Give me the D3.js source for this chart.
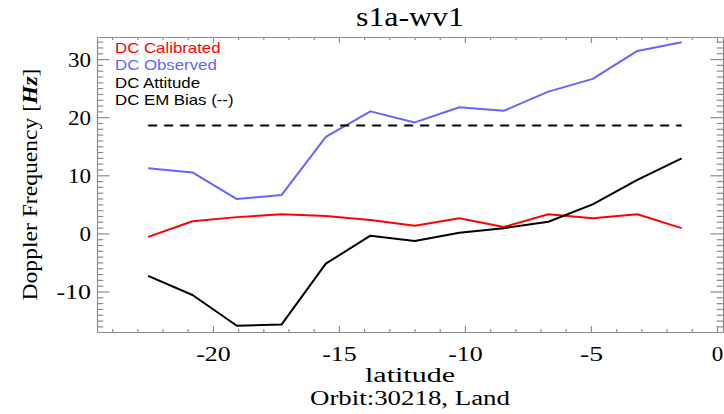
<!DOCTYPE html>
<html>
<head>
<meta charset="utf-8">
<script src="https://cdn.jsdelivr.net/npm/d3@7"></script>
<style>
  html, body { margin: 0; padding: 0; background: #fff; }
  svg { display: block; }
  .serif { font-family: "Liberation Serif", "DejaVu Serif", serif; }
  .sans { font-family: "Liberation Sans", Arial, sans-serif; }
</style>
</head>
<body>
<svg id="chart" width="724" height="414"></svg>
<script>
// Doppler centroid components along latitude
const latitude     = [-22.57, -20.81, -19.05, -17.28, -15.52, -13.75, -11.99, -10.22, -8.46, -6.69, -4.93, -3.16, -1.40];
const dcCalibrated = [-0.6, 2.1, 2.8, 3.3, 3.0, 2.3, 1.3, 2.6, 1.1, 3.3, 2.6, 3.3, 0.9];
const dcObserved   = [11.2, 10.5, 5.9, 6.6, 16.6, 21.0, 19.1, 21.7, 21.1, 24.4, 26.6, 31.4, 32.9];
const dcAttitude   = [-7.3, -10.6, -15.9, -15.7, -5.2, -0.4, -1.3, 0.1, 0.9, 2.0, 5.0, 9.2, 12.9];
const dcEmBias     = 18.55;

const xMajorTicks = [-20, -15, -10, -5, 0];
const yMajorTicks = [-10, 0, 10, 20, 30];
const xDomain = [-24.6, 0.24];
const yDomain = [-16.97, 33.8];

const legendItems = [
  { label: "DC Calibrated", color: "#ff0000" },
  { label: "DC Observed", color: "#6464ff" },
  { label: "DC Attitude", color: "#000000" },
  { label: "DC EM Bias (--)", color: "#000000" }
];

const margin = { left: 97, right: 1, top: 37, bottom: 82 };
const W = 724, H = 414;
const plotW = W - margin.left - margin.right;
const plotH = H - margin.top - margin.bottom;

const svg = d3.select("#chart");
const g = svg.append("g").attr("transform", `translate(${margin.left},${margin.top})`);

const x = d3.scaleLinear().domain(xDomain).range([0, plotW]);
const y = d3.scaleLinear().domain(yDomain).range([plotH, 0]);

const axisColor = "#8c8c8c";
const xMinor = d3.range(Math.ceil(xDomain[0]), Math.floor(xDomain[1]) + 1).filter(v => !xMajorTicks.includes(v));
const yMinor = d3.range(Math.ceil(yDomain[0]), Math.floor(yDomain[1]) + 1).filter(v => !yMajorTicks.includes(v));

// tick lengths: x-axis ticks scale with plot height, y-axis ticks with plot width
const xTickLen = 6, yTickLen = 12.5;

function styleAxis(sel) {
  sel.selectAll("path.domain").attr("stroke", axisColor).attr("stroke-width", 1.2);
  sel.selectAll(".tick line").attr("stroke", axisColor).attr("stroke-width", 1.2);
}

// wide serif tick labels
function styleTickText(sel) {
  sel.selectAll(".tick text")
    .attr("font-size", 22)
    .attr("fill", "#000")
    .attr("font-family", "Liberation Serif, serif")
    .attr("textLength", d => String(d).length * 11.5)
    .attr("lengthAdjust", "spacingAndGlyphs");
}

// bottom axis with labels
const axBottom = g.append("g").attr("transform", `translate(0,${plotH})`)
  .call(d3.axisBottom(x).tickValues(xMajorTicks).tickSize(-xTickLen).tickSizeOuter(0).tickPadding(13)
    .tickFormat(d => String(d)));
styleAxis(axBottom);
styleTickText(axBottom);
g.append("g").attr("transform", `translate(0,${plotH})`)
  .call(d3.axisBottom(x).tickValues(xMinor).tickSize(-xTickLen / 2).tickSizeOuter(0).tickFormat(""))
  .call(styleAxis).select("path.domain").remove();

// top axis, ticks only
const axTop = g.append("g")
  .call(d3.axisTop(x).tickValues(xMajorTicks).tickSize(-xTickLen).tickSizeOuter(0).tickFormat(""));
styleAxis(axTop);
g.append("g")
  .call(d3.axisTop(x).tickValues(xMinor).tickSize(-xTickLen / 2).tickSizeOuter(0).tickFormat(""))
  .call(styleAxis).select("path.domain").remove();

// left axis with labels
const axLeft = g.append("g")
  .call(d3.axisLeft(y).tickValues(yMajorTicks).tickSize(-yTickLen).tickSizeOuter(0).tickPadding(6)
    .tickFormat(d => String(d)));
styleAxis(axLeft);
styleTickText(axLeft);
g.append("g")
  .call(d3.axisLeft(y).tickValues(yMinor).tickSize(-yTickLen / 2).tickSizeOuter(0).tickFormat(""))
  .call(styleAxis).select("path.domain").remove();

// right axis, ticks only
const axRight = g.append("g").attr("transform", `translate(${plotW},0)`)
  .call(d3.axisRight(y).tickValues(yMajorTicks).tickSize(-yTickLen).tickSizeOuter(0).tickFormat(""));
styleAxis(axRight);
g.append("g").attr("transform", `translate(${plotW},0)`)
  .call(d3.axisRight(y).tickValues(yMinor).tickSize(-yTickLen / 2).tickSizeOuter(0).tickFormat(""))
  .call(styleAxis).select("path.domain").remove();

// series lines
const line = d3.line().x(d => x(d[0])).y(d => y(d[1]));
const series = [
  { values: dcCalibrated, color: "#ff0000" },
  { values: dcObserved, color: "#6464ff" },
  { values: dcAttitude, color: "#000000" }
];
series.forEach(s => {
  g.append("path")
    .datum(latitude.map((lat, i) => [lat, s.values[i]]))
    .attr("d", line)
    .attr("fill", "none")
    .attr("stroke", s.color)
    .attr("stroke-width", 2)
    .attr("stroke-linejoin", "round");
});

// EM bias, dashed, over the latitude span
g.append("path")
  .datum([[latitude[0], dcEmBias], [latitude[latitude.length - 1], dcEmBias]])
  .attr("d", line)
  .attr("fill", "none")
  .attr("stroke", "#000")
  .attr("stroke-width", 2)
  .attr("stroke-dasharray", "9,7");

// legend (horizontally stretched sans text)
const legend = g.append("g").attr("transform", "translate(18,16) scale(1.16,1)");
legendItems.forEach((item, i) => {
  legend.append("text")
    .attr("x", 0)
    .attr("y", i * 17.3)
    .attr("class", "sans")
    .attr("font-size", 14.5)
    .attr("fill", item.color)
    .text(item.label);
});

// titles
const cx = margin.left + plotW / 2;
svg.append("text")
  .attr("class", "serif")
  .attr("x", cx)
  .attr("y", 26)
  .attr("text-anchor", "middle")
  .attr("font-size", 27)
  .attr("textLength", 108)
  .attr("lengthAdjust", "spacingAndGlyphs")
  .text("s1a-wv1");

svg.append("text")
  .attr("class", "serif")
  .attr("x", cx)
  .attr("y", 382)
  .attr("text-anchor", "middle")
  .attr("font-size", 20)
  .attr("textLength", 90)
  .attr("lengthAdjust", "spacingAndGlyphs")
  .text("latitude");

svg.append("text")
  .attr("class", "serif")
  .attr("x", cx)
  .attr("y", 405)
  .attr("text-anchor", "middle")
  .attr("font-size", 20)
  .attr("textLength", 200)
  .attr("lengthAdjust", "spacingAndGlyphs")
  .text("Orbit:30218, Land");

const yTitle = svg.append("text")
  .attr("class", "serif")
  .attr("transform", `translate(37,${margin.top + plotH / 2}) rotate(-90)`)
  .attr("text-anchor", "middle")
  .attr("font-size", 22)
  .attr("textLength", 232)
  .attr("lengthAdjust", "spacingAndGlyphs");
yTitle.append("tspan").text("Doppler Frequency [");
yTitle.append("tspan").attr("font-weight", "bold").attr("font-style", "italic").text("Hz");
yTitle.append("tspan").text("]");
</script>
</body>
</html>
